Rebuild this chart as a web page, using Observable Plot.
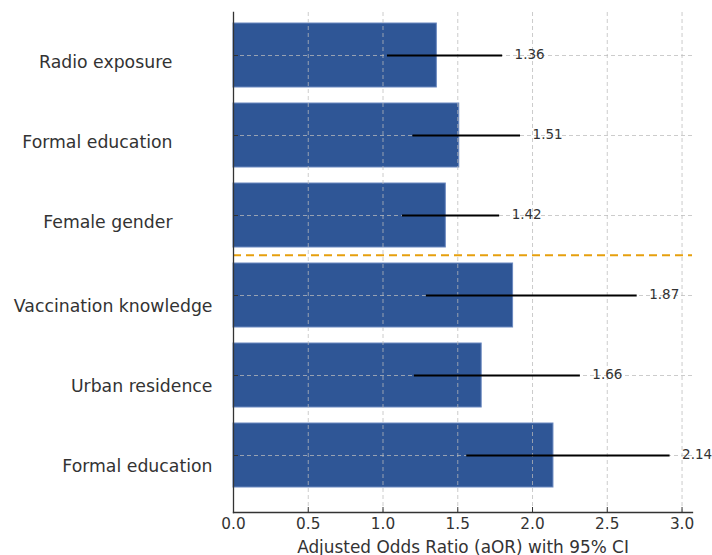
<!DOCTYPE html>
<html>
<head>
<meta charset="utf-8">
<script src="https://cdn.jsdelivr.net/npm/d3@7"></script>
<script src="https://cdn.jsdelivr.net/npm/@observablehq/plot@0.6"></script>
<style>
  html, body { margin: 0; padding: 0; background: #fff; }
</style>
</head>
<body>
<div id="chart"></div>
<script>
const ids = ["radio", "edu1", "female", "vacc", "urban", "edu2"];
const labels = ["Radio exposure", "Formal education", "Female gender", "Vaccination knowledge", "Urban residence", "Formal education"];
const aor = [1.36, 1.51, 1.42, 1.87, 1.66, 2.14];
const ciLow = [1.03, 1.20, 1.13, 1.29, 1.21, 1.56];
const ciHigh = [1.80, 1.92, 1.78, 2.70, 2.32, 2.92];
const xTicks = [0, 0.5, 1.0, 1.5, 2.0, 2.5, 3.0];
const gridTicks = [0.5, 1.0, 1.5, 2.0, 2.5, 3.0];
const groupStart = "vacc";
const xLabel = "Adjusted Odds Ratio (aOR) with 95% CI";

const rows = ids.map((id, i) => ({id, label: labels[i], aor: aor[i], lo: ciLow[i], hi: ciHigh[i], group: i < 3 ? "top" : "bottom"}));

const chart = Plot.plot({
  width: 712,
  height: 555,
  marginTop: 12,
  marginBottom: 43,
  marginLeft: 233,
  marginRight: 20,
  style: {fontFamily: "DejaVu Sans", fontSize: "15px", color: "#333", background: "#fff"},
  x: {domain: [0, 3.07], label: null},
  y: {type: "band", domain: ids, paddingInner: 0.2, paddingOuter: 0.206, align: 0.3, label: null},
  marks: [
    Plot.barX(rows, {x: "aor", y: "id", fill: "#2f5696", stroke: "#6a88bf", strokeWidth: 1}),
    Plot.gridX(gridTicks, {stroke: "#bbbbbb", strokeOpacity: 0.75, strokeDasharray: "4,3", strokeWidth: 1}),
    Plot.gridY(ids, {stroke: "#bbbbbb", strokeOpacity: 0.75, strokeDasharray: "4,3", strokeWidth: 1}),
    Plot.ruleY(rows, {y: "id", x1: "lo", x2: "hi", stroke: "black", strokeWidth: 2.2}),
    Plot.text(rows, {x: "hi", y: "id", text: d => d.aor.toFixed(2), dx: 12, dy: -1, textAnchor: "start", fontSize: 13.5, fill: "#333"}),
    Plot.ruleY([groupStart], {dy: -40.25, stroke: "#e6a00e", strokeWidth: 2, strokeDasharray: "8,5"}),
    Plot.frame({anchor: "left", stroke: "#333", strokeWidth: 1.3}),
    Plot.frame({anchor: "bottom", stroke: "#333", strokeWidth: 1.3}),
    Plot.axisY(ids, {tickSize: -5, tickFormat: () => "", stroke: "#333", label: null}),
    Plot.text(rows.filter(d => d.group === "top"), {y: "id", text: "label", frameAnchor: "left", dx: -61, dy: 7, textAnchor: "end", fontSize: 17.3, fill: "#333"}),
    Plot.text(rows.filter(d => d.group === "bottom"), {y: "id", text: "label", frameAnchor: "left", dx: -21, dy: 11, textAnchor: "end", fontSize: 17.3, fill: "#333"}),
    Plot.axisX(xTicks, {tickSize: -5, tickPadding: 11, tickFormat: d3.format(".1f"), fontSize: 15.3, stroke: "#333", label: null}),
    Plot.text([xLabel], {text: d => d, frameAnchor: "bottom", dy: 40, lineAnchor: "bottom", textAnchor: "middle", fontSize: 16.9, fill: "#333"})
  ]
});
document.getElementById("chart").appendChild(chart);
</script>
</body>
</html>
